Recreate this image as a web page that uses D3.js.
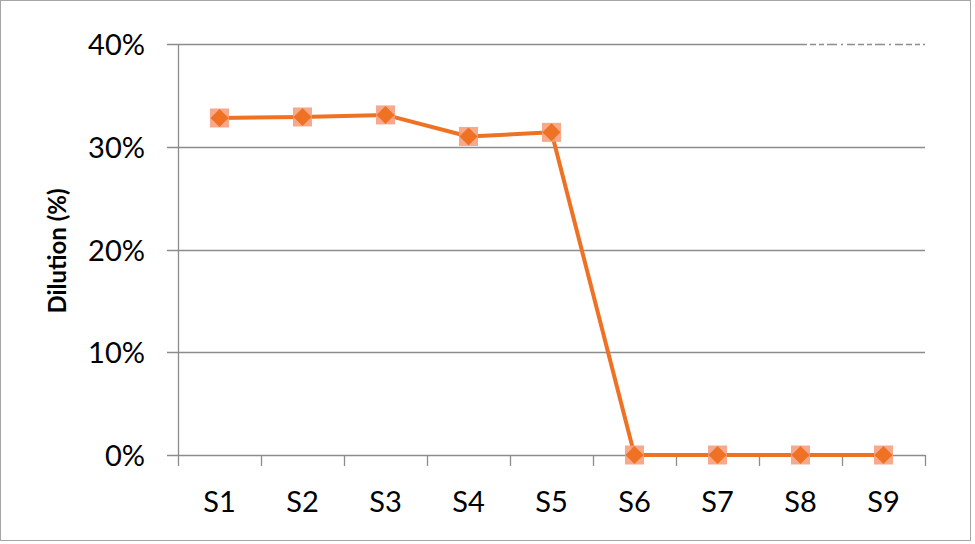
<!DOCTYPE html>
<html>
<head>
<meta charset="utf-8">
<script src="https://cdn.jsdelivr.net/npm/d3@7"></script>
<style>
  body { margin: 0; background: #fff; }
  text { font-family: Lato, "Open Sans", sans-serif; }
</style>
</head>
<body>
<script>
// samples and dilution values (%)
var categories = ['S1', 'S2', 'S3', 'S4', 'S5', 'S6', 'S7', 'S8', 'S9'];
var dilution = [32.8, 32.9, 33.1, 31.0, 31.4, 0, 0, 0, 0];
var yTicks = [0, 10, 20, 30, 40];

var W = 975, H = 544;
var plotLeft = 178, plotRight = 925, plotTop = 44, plotBottom = 455;

var svg = d3.select('body').append('svg')
    .attr('width', W)
    .attr('height', H);

// outer frame
svg.append('rect')
    .attr('x', 0.5).attr('y', 0.5)
    .attr('width', 970).attr('height', 540)
    .attr('fill', '#fff')
    .attr('stroke', '#a6a6a6');

var x = d3.scaleBand().domain(categories).range([plotLeft, plotRight]);
var y = d3.scaleLinear().domain([0, 40]).range([plotBottom, plotTop]);

var grid = '#8c8c8c';

// gridlines + left ticks
var g = svg.append('g');
for (var i=0; i<yTicks.length; i++)
{
    var yy = Math.round(y(yTicks[i])) + 0.5;
    g.append('line')
        .attr('x1', plotLeft - 11).attr('x2', plotRight)
        .attr('y1', yy).attr('y2', yy)
        .attr('stroke', grid).attr('stroke-width', 1.3);
    g.append('text')
        .attr('x', 145).attr('y', yy + 10)
        .attr('text-anchor', 'end')
        .attr('font-size', 29)
        .attr('fill', '#000')
        .text(yTicks[i] + '%');
}

// hidden legend artifact over top gridline
svg.append('line')
    .attr('x1', 807).attr('x2', 926)
    .attr('y1', Math.round(y(40)) + 0.5).attr('y2', Math.round(y(40)) + 0.5)
    .attr('stroke', '#fff').attr('stroke-width', 3)
    .attr('stroke-dasharray', '3,6,3,5,3,10,4,2,4,8');

// y axis line
svg.append('line')
    .attr('x1', plotLeft + 0.5).attr('x2', plotLeft + 0.5)
    .attr('y1', y(40)).attr('y2', plotBottom)
    .attr('stroke', grid).attr('stroke-width', 1.3);

// x tick marks
var edges = categories.map(function(c) { return x(c); }).concat([plotRight]);
for (var i=0; i<edges.length; i++)
{
    var xx = Math.round(edges[i]) + 0.5;
    svg.append('line')
        .attr('x1', xx).attr('x2', xx)
        .attr('y1', plotBottom).attr('y2', plotBottom + 11)
        .attr('stroke', grid).attr('stroke-width', 1.3);
}

// x labels
svg.append('g').selectAll('text')
    .data(categories)
    .join('text')
    .attr('x', function(d) { return x(d) + x.bandwidth()/2; })
    .attr('y', 512)
    .attr('text-anchor', 'middle')
    .attr('font-size', 29)
    .attr('fill', '#000')
    .text(function(d) { return d; });

// y axis title
svg.append('text')
    .attr('transform', 'translate(66,251) rotate(-90)')
    .attr('text-anchor', 'middle')
    .attr('font-size', 24)
    .attr('font-weight', 'bold')
    .attr('fill', '#000')
    .text('Dilution (%)');

// series line
var pts = categories.map(function(c, i) { return [x(c) + x.bandwidth()/2, y(dilution[i])]; });
svg.append('path')
    .attr('d', d3.line()(pts))
    .attr('fill', 'none')
    .attr('stroke', '#ef7123')
    .attr('stroke-width', 4)
    .attr('stroke-linejoin', 'round');

// markers: pale square behind a diamond
var mk = svg.append('g');
for (var i=0; i<pts.length; i++)
{
    var p = pts[i];
    mk.append('rect')
        .attr('x', p[0] - 9.5).attr('y', p[1] - 9.5)
        .attr('width', 19).attr('height', 19)
        .attr('fill', '#f7a07e')
        .attr('opacity', 0.9);
    mk.append('path')
        .attr('d', 'M' + p[0] + ',' + (p[1]-9) + 'L' + (p[0]+9) + ',' + p[1] +
                   'L' + p[0] + ',' + (p[1]+9) + 'L' + (p[0]-9) + ',' + p[1] + 'Z')
        .attr('fill', '#ef7123');
}
</script>
</body>
</html>
